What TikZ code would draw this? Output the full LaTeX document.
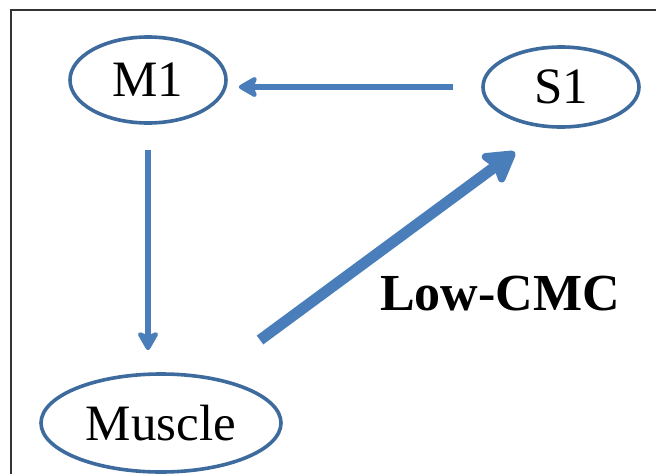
\documentclass[tikz,border=0pt]{standalone}
\usepackage{fontspec}
\setmainfont{Liberation Serif}
\usetikzlibrary{shapes.geometric,arrows.meta}
\definecolor{ellblue}{HTML}{3D6B9E}
\definecolor{arrblue}{HTML}{4A7EBB}
\definecolor{framegray}{HTML}{333333}
\tikzset{
  ell/.style={ellipse, draw=ellblue, line width=3.6pt, inner sep=0pt,
    font=\fontsize{51}{60}\selectfont},
  thinarr/.style={draw=arrblue, line width=5.5pt,
    -{Stealth[length=22pt,width=25pt,inset=5pt,round]}},
  bigarr/.style={draw=arrblue, line width=11pt,
    -{Stealth[length=36pt,width=42pt,inset=6pt,round]}},
  lbl/.style={font=\fontsize{52}{60}\selectfont\bfseries, inner sep=0pt}
}
\begin{document}
\begin{tikzpicture}[x=1pt,y=-1pt]
\useasboundingbox (0,0) rectangle (656,474);
\fill[white] (0,0) rectangle (656,474);
\draw[framegray, line width=1.5pt] (11,474) -- (11,10) -- (656,10);
\node[ell, minimum width=156pt, minimum height=86pt] (m1) at (148,80) {M1};
\node[ell, minimum width=156pt, minimum height=80pt] (s1) at (561,87) {S1};
\node[ell, minimum width=240pt, minimum height=98pt] (muscle) at (161,423) {Muscle};
\node[lbl, anchor=base] (low) at (500,310) {Low-CMC};
\draw[thinarr, shorten <=28pt, shorten >=11pt] (s1.west) -- (m1.east |- s1.west);
\draw[thinarr, shorten <=25pt, shorten >=22pt] (m1.south) -- (m1.south |- muscle.north);
\coordinate (lowstart) at (260,340);
\coordinate (lowend) at (515,152);
\draw[bigarr] (lowstart) -- (lowend);
\end{tikzpicture}
\end{document}
